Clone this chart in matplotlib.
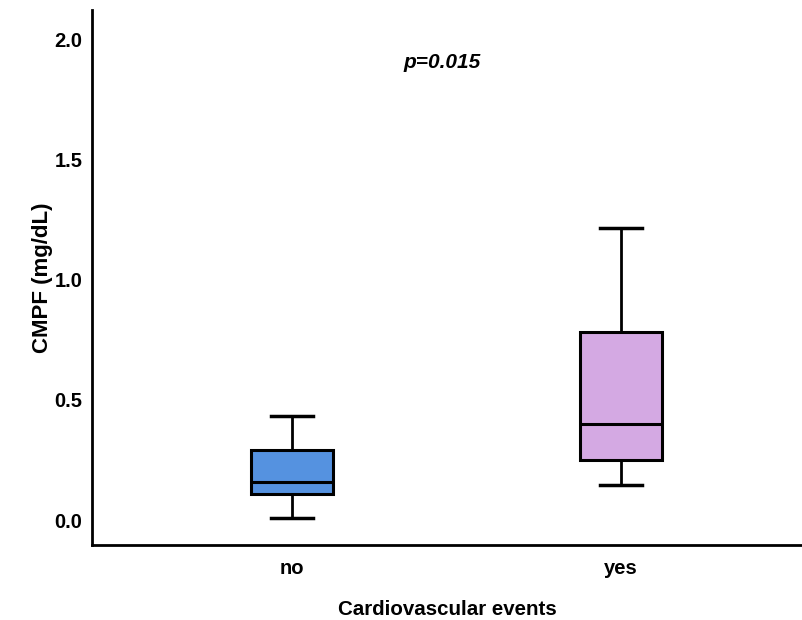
import matplotlib
matplotlib.use("Agg")
import matplotlib.pyplot as plt

# box summary values (mg/dL)
groups = ["no", "yes"]
whislo = [0.01, 0.145]
q1 = [0.11, 0.25]
med = [0.16, 0.40]
q3 = [0.29, 0.785]
whishi = [0.435, 1.215]
colors = ["#5592E0", "#D4A9E3"]

plt.rcParams['font.family'] = ['Liberation Sans', 'DejaVu Sans']

stats = []
for i in range(len(groups)):
    stats.append(dict(label=groups[i], whislo=whislo[i], q1=q1[i], med=med[i],
                      q3=q3[i], whishi=whishi[i], fliers=[]))

fig = plt.figure(figsize=(8.03, 6.20), dpi=100)
ax = fig.add_axes([0.1146, 0.121, 0.8854, 0.863])

bp = ax.bxp(stats, positions=[1, 2], widths=0.25, patch_artist=True, showfliers=False,
            boxprops=dict(linewidth=2.2, edgecolor="black"),
            medianprops=dict(color="black", linewidth=2.2),
            whiskerprops=dict(color="black", linewidth=2),
            capprops=dict(color="black", linewidth=2.5),
            capwidths=0.13)
for patch, c in zip(bp['boxes'], colors):
    patch.set_facecolor(c)

ax.set_xlim(0.392, 2.553)
ax.set_ylim(-0.104, 2.125)
ax.set_yticks([0.0, 0.5, 1.0, 1.5, 2.0])
ax.set_yticklabels(["0.0", "0.5", "1.0", "1.5", "2.0"])
ax.tick_params(length=0, labelsize=14.5, pad=7)
for lab in ax.get_xticklabels() + ax.get_yticklabels():
    lab.set_fontweight("bold")
ax.tick_params(axis='x', pad=10)

for s in ["top", "right"]:
    ax.spines[s].set_visible(False)
for s in ["left", "bottom"]:
    ax.spines[s].set_linewidth(2)

ax.set_xlabel("Cardiovascular events", fontsize=14.8, fontweight="bold", labelpad=16)
ax.set_ylabel("CMPF (mg/dL)", fontsize=16, fontweight="bold", labelpad=1)

ax.text(1.456, 1.905, "p=0.015", fontsize=15, fontweight="bold", style="italic",
        ha="center", va="center")

fig.savefig("out.png", dpi=100)
